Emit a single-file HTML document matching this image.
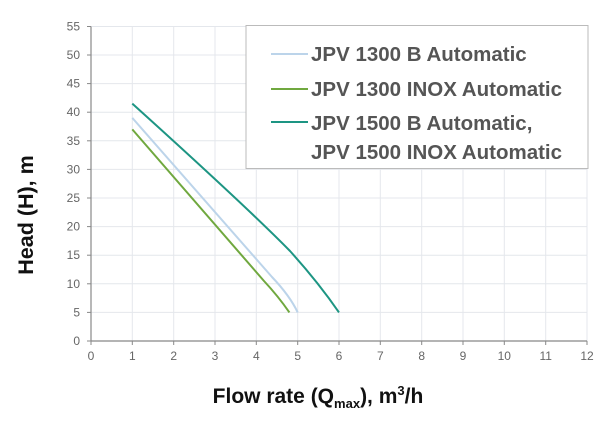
<!DOCTYPE html>
<html><head><style>
body{margin:0;background:#fff;width:605px;height:416px;overflow:hidden}
svg text{font-family:"Liberation Sans",sans-serif}
</style></head><body>
<svg width="605" height="416" viewBox="0 0 605 416">
<g stroke="#e4e7ec" stroke-width="1">
<line x1="132.3" y1="26.5" x2="132.3" y2="341"/><line x1="173.7" y1="26.5" x2="173.7" y2="341"/><line x1="215" y1="26.5" x2="215" y2="341"/><line x1="256.3" y1="26.5" x2="256.3" y2="341"/><line x1="297.7" y1="26.5" x2="297.7" y2="341"/><line x1="339" y1="26.5" x2="339" y2="341"/><line x1="380.3" y1="26.5" x2="380.3" y2="341"/><line x1="421.7" y1="26.5" x2="421.7" y2="341"/><line x1="463" y1="26.5" x2="463" y2="341"/><line x1="504.3" y1="26.5" x2="504.3" y2="341"/><line x1="545.7" y1="26.5" x2="545.7" y2="341"/><line x1="587" y1="26.5" x2="587" y2="341"/>
<line x1="91" y1="312.4" x2="587" y2="312.4"/><line x1="91" y1="283.8" x2="587" y2="283.8"/><line x1="91" y1="255.2" x2="587" y2="255.2"/><line x1="91" y1="226.6" x2="587" y2="226.6"/><line x1="91" y1="198" x2="587" y2="198"/><line x1="91" y1="169.4" x2="587" y2="169.4"/><line x1="91" y1="140.8" x2="587" y2="140.8"/><line x1="91" y1="112.2" x2="587" y2="112.2"/><line x1="91" y1="83.6" x2="587" y2="83.6"/><line x1="91" y1="55" x2="587" y2="55"/><line x1="91" y1="26.5" x2="587" y2="26.5"/>
</g>
<g stroke="#888" stroke-width="1.2" fill="none">
<line x1="91" y1="26.5" x2="91" y2="341"/><line x1="91" y1="341" x2="587" y2="341"/>
</g>
<g stroke="#888" stroke-width="1">
<line x1="87" y1="341" x2="91" y2="341"/><line x1="87" y1="312.4" x2="91" y2="312.4"/><line x1="87" y1="283.8" x2="91" y2="283.8"/><line x1="87" y1="255.2" x2="91" y2="255.2"/><line x1="87" y1="226.6" x2="91" y2="226.6"/><line x1="87" y1="198" x2="91" y2="198"/><line x1="87" y1="169.4" x2="91" y2="169.4"/><line x1="87" y1="140.8" x2="91" y2="140.8"/><line x1="87" y1="112.2" x2="91" y2="112.2"/><line x1="87" y1="83.6" x2="91" y2="83.6"/><line x1="87" y1="55" x2="91" y2="55"/><line x1="87" y1="26.5" x2="91" y2="26.5"/>
<line x1="91" y1="341" x2="91" y2="345"/><line x1="132.3" y1="341" x2="132.3" y2="345"/><line x1="173.7" y1="341" x2="173.7" y2="345"/><line x1="215" y1="341" x2="215" y2="345"/><line x1="256.3" y1="341" x2="256.3" y2="345"/><line x1="297.7" y1="341" x2="297.7" y2="345"/><line x1="339" y1="341" x2="339" y2="345"/><line x1="380.3" y1="341" x2="380.3" y2="345"/><line x1="421.7" y1="341" x2="421.7" y2="345"/><line x1="463" y1="341" x2="463" y2="345"/><line x1="504.3" y1="341" x2="504.3" y2="345"/><line x1="545.7" y1="341" x2="545.7" y2="345"/><line x1="587" y1="341" x2="587" y2="345"/>
</g>
<g font-size="12" fill="#666" text-anchor="end">
<text x="80" y="345">0</text><text x="80" y="316.4">5</text><text x="80" y="287.8">10</text><text x="80" y="259.2">15</text><text x="80" y="230.6">20</text><text x="80" y="202">25</text><text x="80" y="173.4">30</text><text x="80" y="144.8">35</text><text x="80" y="116.2">40</text><text x="80" y="87.6">45</text><text x="80" y="59">50</text><text x="80" y="30.5">55</text>
</g>
<g font-size="12" fill="#666" text-anchor="middle">
<text x="91" y="360">0</text><text x="132.3" y="360">1</text><text x="173.7" y="360">2</text><text x="215" y="360">3</text><text x="256.3" y="360">4</text><text x="297.7" y="360">5</text><text x="339" y="360">6</text><text x="380.3" y="360">7</text><text x="421.7" y="360">8</text><text x="463" y="360">9</text><text x="504.3" y="360">10</text><text x="545.7" y="360">11</text><text x="587" y="360">12</text>
</g>
<g fill="none" stroke-width="2" stroke-linejoin="round">
<path d="M132.3,117.9 L272,277 Q290,296 297.7,312.4" stroke="#bcd4ea"/>
<path d="M132.3,129.4 L264,281 Q278,296 289.4,312.4" stroke="#70a83f"/>
<path d="M132.3,103.6 Q250,210 290,251 Q318,282 339,312.4" stroke="#1d9583"/>
</g>
<rect x="246" y="25.5" width="342" height="143" fill="#fff" stroke="#bbb" stroke-width="1"/>
<line x1="271" y1="54" x2="308" y2="54" stroke="#bcd4ea" stroke-width="2"/>
<line x1="271" y1="89" x2="308" y2="89" stroke="#70a83f" stroke-width="2"/>
<line x1="271" y1="122" x2="308" y2="122" stroke="#1d9583" stroke-width="2"/>
<g font-size="20.5" font-weight="bold" fill="#555">
<text x="311" y="61">JPV 1300 B Automatic</text>
<text x="311" y="96">JPV 1300 INOX Automatic</text>
<text x="311" y="130">JPV 1500 B Automatic,</text>
<text x="311" y="159">JPV 1500 INOX Automatic</text>
</g>
<text x="318" y="403" font-size="21" font-weight="bold" fill="#111" text-anchor="middle">Flow rate (Q<tspan font-size="13" dy="5">max</tspan><tspan dy="-5">), m</tspan><tspan font-size="13" dy="-8">3</tspan><tspan dy="8">/h</tspan></text>
<text transform="translate(33,215) rotate(-90)" font-size="21.5" font-weight="bold" fill="#111" text-anchor="middle">Head (H), m</text>
</svg>
</body></html>
